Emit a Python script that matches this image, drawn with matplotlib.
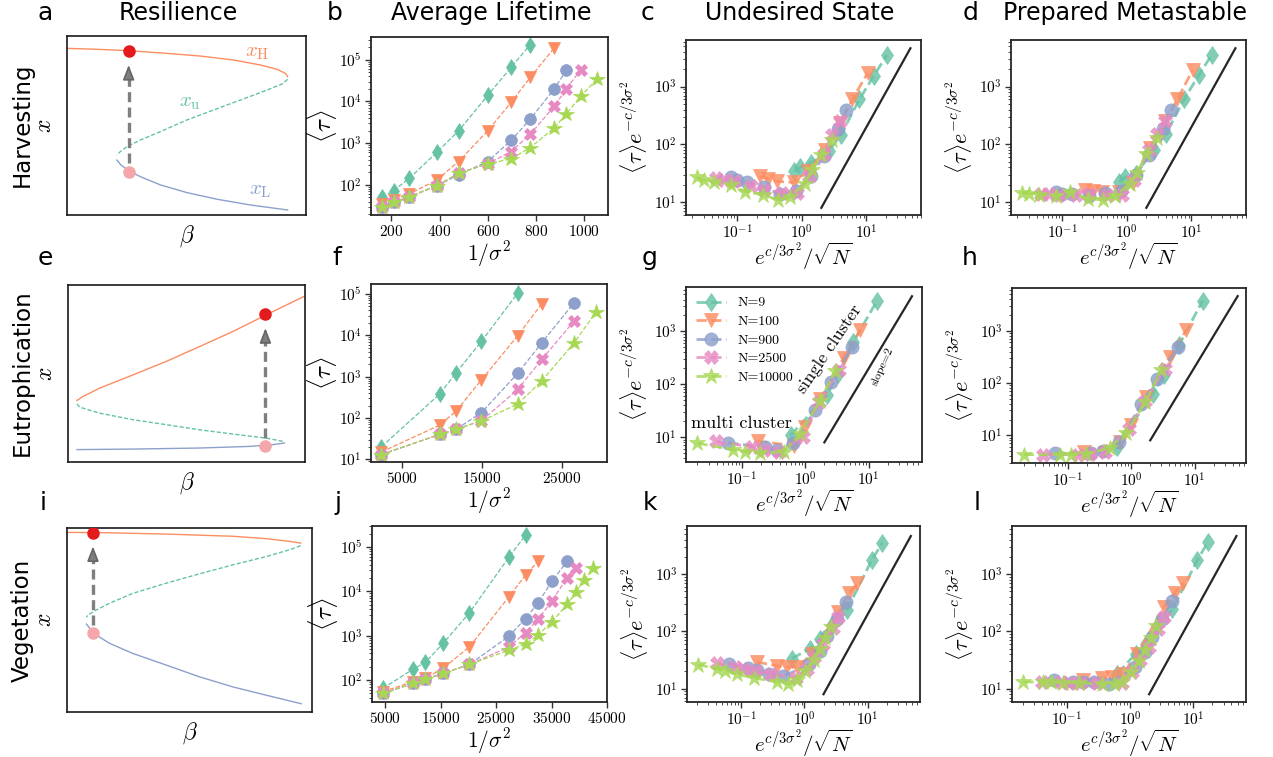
import numpy as np
import matplotlib
matplotlib.use("Agg")
import matplotlib.pyplot as plt
from matplotlib.ticker import FuncFormatter, NullFormatter, FixedLocator

plt.rcParams["mathtext.fontset"] = "cm"

W, H = 1273, 757

n_labels = ["N=9", "N=100", "N=900", "N=2500", "N=10000"]
colors = ["#66c2a5", "#fc8d62", "#8da0cb", "#e78ac3", "#a6d854"]
markers = ["d", "v", "o", "X", "*"]

# ---- bifurcation diagrams (beta, x), both in arbitrary units 0..1 ----
harv_H_beta = [0, .139, .258, .418, .558, .697, .809, .879, .914, .923]
harv_H_x = [.931, .925, .918, .903, .888, .866, .838, .814, .791, .773]
harv_u_beta = [.923, .900, .837, .725, .614, .502, .391, .307, .251, .223, .209]
harv_u_x = [.758, .732, .698, .642, .587, .531, .466, .419, .382, .354, .335]
harv_L_beta = [.209, .226, .258, .307, .391, .502, .628, .767, .923]
harv_L_x = [.307, .279, .248, .214, .168, .125, .088, .056, .028]
harv_jump = [0.258, 0.24, 0.918, 0.289, 0.838]  # beta, low dot, high dot, arrow start, arrow tip

eut_H_beta = [.038, .063, .133, .274, .414, .555, .695, .836, 1.0]
eut_H_x = [.348, .370, .417, .492, .568, .652, .737, .831, .938]
eut_u_beta = [.038, .049, .133, .274, .414, .555, .695, .836, .906, .913]
eut_u_x = [.329, .310, .276, .239, .211, .182, .158, .135, .117, .111]
eut_L_beta = [.038, .274, .555, .765, .864, .913]
eut_L_x = [.070, .073, .079, .088, .098, .107]
eut_jump = [0.833, 0.092, 0.835, 0.135, 0.756]

veg_H_beta = [0, .133, .405, .678, .814, .909, .954]
veg_H_x = [.976, .975, .967, .955, .942, .927, .918]
veg_u_beta = [.954, .909, .814, .678, .541, .405, .269, .174, .120, .086, .079]
veg_u_x = [.904, .882, .845, .800, .751, .700, .645, .591, .555, .527, .515]
veg_L_beta = [.079, .093, .120, .174, .269, .405, .541, .678, .814, .956]
veg_L_x = [.478, .455, .418, .373, .318, .255, .191, .136, .091, .045]
veg_jump = [0.106, 0.431, 0.973, 0.473, 0.90]

# ---- average lifetime vs 1/sigma^2 ----
harv_s = [161, 209, 275, 389, 479, 600, 697, 777, 876, 927, 986, 1055]
harv_tau = [
    [50, 73, 145, 608, 1980, 13900, 65500, 229000],
    [35, 44, 61, 132, 363, 1980, 9460, 37700, 190000],
    [29, 38, 52, 96, 174, 363, 1160, 3770, 19800, 55500],
    [29, 38, 52, 96, 190, 319, 631, 1640, 7590, 19800, 57500],
    [29, 38, 52, 96, 190, 319, 421, 787, 2290, 5060, 13200, 34400],
]
eut_s = [2417, 9708, 11792, 14917, 19458, 22500, 26458, 29250]
eut_tau = [
    [20, 380, 1260, 7100, 105000],
    [15, 67, 149, 830, 9800, 59000],
    [13, 40, 54, 134, 1200, 6700, 60000],
    [13, 40, 54, 85, 490, 2640, 21700],
    [13, 40, 54, 85, 217, 800, 6400, 36500],
]
veg_s = [4583, 9940, 12200, 15417, 20179, 27321, 30298, 32560, 35060, 37800,
         39400, 40900, 42560]
veg_tau = [
    [65, 174, 250, 670, 3300, 60000, 187000],
    [55, 92, 109, 183, 563, 7600, 23400, 48000],
    [50, 84, 104, 141, 225, 980, 2450, 5500, 17000, 48000],
    [50, 84, 104, 141, 225, 563, 1170, 2340, 6100, 20400, 34000],
    [50, 84, 104, 141, 225, 475, 650, 1040, 2070, 5100, 9800, 18000, 33000],
]

# ---- scaling collapse: x = e^{c/3s^2}/sqrt(N) ----
harv_xs = [
    [0.76, 0.95, 1.38, 2.60, 4.04, 7.78, 13.0, 20.7],
    [0.222, 0.296, 0.409, 0.751, 1.24, 2.28, 3.94, 6.06, 10.4],
    [0.0787, 0.100, 0.140, 0.260, 0.450, 0.817, 1.40, 2.17, 3.58, 4.77],
    [0.0472, 0.0614, 0.0877, 0.161, 0.263, 0.500, 0.846, 1.30, 2.20, 2.89, 3.85],
    [0.0236, 0.0307, 0.0438, 0.0807, 0.1315, 0.251, 0.424, 0.650, 1.10, 1.45, 2.0, 2.89],
]
harv_undesired = [
    [34.1, 40.1, 47.7, 76, 148, 603, 1535, 3510],
    [27.9, 25.5, 22.9, 22.0, 34.1, 81, 237, 603, 1706],
    [26.9, 24.4, 22.0, 18.0, 13.8, 15.7, 27.9, 64, 181, 387],
    [26.1, 24.1, 22.9, 19.2, 16.4, 14.4, 14.7, 27.9, 69.3, 148, 250],
    [26.8, 23.8, 22.0, 19.5, 15.3, 13.4, 11.0, 12.2, 20.9, 36.5, 66.5, 121],
]
harv_prepared = [
    [22.2, 27.2, 31.0, 78.7, 153, 619, 1574, 3590],
    [16.4, 15.9, 15.3, 14.9, 21.6, 86, 251, 603, 1920],
    [14.9, 14.0, 13.6, 12.7, 14.3, 15.9, 29.8, 64.4, 187, 399],
    [14.0, 14.0, 13.4, 13.1, 14.0, 13.1, 13.1, 23.8, 78.7, 153, 250],
    [14.3, 14.0, 13.4, 12.7, 15.3, 11.4, 11.0, 12.7, 20.8, 32.3, 68.9, 129],
]
eut_xs = [
    [0.586, 2.17, 3.32, 5.73, 13.4],
    [0.177, 0.654, 1.0, 1.73, 4.03, 7.39],
    [0.0616, 0.233, 0.357, 0.639, 1.44, 2.54, 5.46],
    [0.0398, 0.147, 0.225, 0.388, 0.908, 1.66, 3.36],
    [0.0200, 0.0738, 0.113, 0.195, 0.455, 0.834, 1.68, 2.98],
]
eut_undesired = [
    [10.8, 61.5, 158, 628, 3750],
    [8.4, 6.95, 15.9, 53, 317, 1076],
    [7.8, 6.5, 5.8, 7.7, 32, 110, 505],
    [8.3, 6.5, 5.8, 5.2, 10.3, 45.9, 188],
    [7.7, 5.8, 5.3, 5.0, 5.3, 11.6, 48, 177],
]
eut_prepared = [
    [6.0, 61, 143, 538, 3780],
    [4.8, 7.4, 15.6, 54.6, 316, 1030],
    [4.6, 4.6, 4.9, 7.4, 38.9, 118, 485],
    [4.25, 4.25, 4.3, 4.8, 13.4, 45.7, 186],
    [4.25, 4.25, 4.25, 4.3, 5.8, 11.1, 43.8, 178],
]
veg_xs = [
    [0.631, 1.23, 1.79, 2.70, 4.66, 11.6, 17.1],
    [0.177, 0.366, 0.526, 0.775, 1.31, 3.44, 5.14, 6.87],
    [0.0631, 0.127, 0.177, 0.270, 0.466, 1.20, 1.73, 2.25, 3.24, 4.55],
    [0.0408, 0.0804, 0.108, 0.163, 0.298, 0.738, 1.08, 1.44, 1.97, 2.80, 3.44],
    [0.0205, 0.0413, 0.0558, 0.0855, 0.157, 0.366, 0.558, 0.757, 1.03, 1.39, 1.73, 2.12, 2.61],
]
veg_undesired = [
    [33.5, 50.1, 75, 128, 234, 1760, 3530],
    [29.3, 24.9, 23.9, 23.9, 39.9, 219, 471, 687],
    [27.4, 23.0, 20.9, 18.3, 16.4, 26.7, 45.6, 82, 167, 328],
    [28.1, 23.9, 22.4, 20.4, 18.3, 15.6, 22.4, 35.8, 61.2, 115, 179],
    [26.3, 22.4, 20.4, 17.8, 15.4, 13.1, 11.9, 14.0, 20.4, 32.1, 50.1, 78, 120],
]
veg_prepared = [
    [18.3, 40.9, 61.2, 123, 241, 1760, 3680],
    [14.0, 15.4, 16.0, 18.3, 40.9, 268, 471, 705],
    [14.0, 13.1, 13.1, 13.1, 12.2, 23.9, 43.8, 80, 167, 337],
    [13.1, 13.1, 12.7, 12.6, 12.6, 12.6, 19.6, 31.3, 53.6, 112, 179],
    [13.1, 13.1, 13.1, 12.7, 12.6, 11.9, 12.2, 13.1, 19.6, 30.5, 48.1, 78, 123],
]

# slope-2 guide line
guide_x = [2.0, 48.0]
guide_y = [8.0, 4608.0]

row_names = ["Harvesting", "Eutrophication", "Vegetation"]
col_titles = ["Resilience", "Average Lifetime", "Undesired State", "Prepared Metastable"]


def rect(l, t, r, b):
    return [l / W, 1 - b / H, (r - l) / W, (b - t) / H]


log_fmt = FuncFormatter(lambda v, p: r"$10^{%d}$" % int(np.round(np.log10(v))))
lin_fmt = FuncFormatter(lambda v, p: r"$%d$" % v)


def style(ax):
    for s in ax.spines.values():
        s.set_color("0.15")
        s.set_linewidth(1.3)
    ax.tick_params(which="major", labelsize=11, length=4, width=1, color="0.2", pad=2.5)
    ax.tick_params(which="minor", length=2, width=0.7, color="0.3")


def bifurcation(ax, H_b, H_x, u_b, u_x, L_b, L_x, jump, texts=False):
    ax.plot(H_b, H_x, color=colors[1], lw=1.0)
    ax.plot(u_b, u_x, color=colors[0], lw=1.0, ls=(0, (3, 1.5)))
    ax.plot(L_b, L_x, color=colors[2], lw=1.0)
    b, lo, hi, a0, a1 = jump
    ax.plot([b, b], [a0, a1 - 0.06], color="#7f7f7f", lw=2.4, ls=(0, (3, 1.6)))
    ax.annotate("", xy=(b, a1), xytext=(b, a1 - 0.075),
                arrowprops=dict(arrowstyle="-|>,head_length=0.9,head_width=0.35",
                                color="#7f7f7f", ec="#666666", lw=1.2,
                                shrinkA=0, shrinkB=0))
    ax.plot(b, hi, "o", color="#e41a1c", ms=8, zorder=5)
    ax.plot(b, lo, "o", color="#f4a6ab", ms=8, zorder=5)
    if texts:
        ax.text(0.795, 0.912, r"$x_{\mathrm{H}}$", color=colors[1], fontsize=15,
                ha="center", va="center")
        ax.text(0.516, 0.633, r"$x_{\mathrm{u}}$", color=colors[0], fontsize=15,
                ha="center", va="center")
        ax.text(0.809, 0.14, r"$x_{\mathrm{L}}$", color=colors[2], fontsize=15,
                ha="center", va="center")
    ax.set_xlim(0, 1)
    ax.set_ylim(0, 1)
    ax.set_xticks([])
    ax.set_yticks([])
    ax.set_xlabel(r"$\beta$", fontsize=17, labelpad=6)
    ax.set_ylabel(r"$x$", fontsize=17, labelpad=8)
    for s in ax.spines.values():
        s.set_color("0.1")
        s.set_linewidth(1.2)


def lifetime(ax, s_grid, taus, xlim, ylim, xticks):
    for i in range(5):
        ax.plot(s_grid[:len(taus[i])], taus[i], ls="--", lw=0.9, marker=markers[i],
                color=colors[i], ms=11.5 if markers[i] == "*" else 8.5, mew=0.5)
    ax.set_yscale("log")
    ax.set_xlim(*xlim)
    ax.set_ylim(*ylim)
    ax.xaxis.set_major_locator(FixedLocator(xticks))
    ax.xaxis.set_major_formatter(lin_fmt)
    ax.yaxis.set_major_formatter(log_fmt)
    ax.yaxis.set_minor_formatter(NullFormatter())
    ax.set_xlabel(r"$1/\sigma^2$", fontsize=15.5, labelpad=0)
    ax.set_ylabel(r"$\langle\tau\rangle$", fontsize=18, labelpad=0)
    style(ax)


def collapse(ax, xs, ys, xlim, ylim, legend=False):
    for i in range(5):
        ax.plot(xs[i], ys[i], ls="--", lw=2.0, marker=markers[i], color=colors[i],
                ms=12 if markers[i] == "*" else 9.5, mew=0.5, alpha=0.82,
                label=n_labels[i])
    ax.plot(guide_x, guide_y, color="0.15", lw=1.6)
    ax.set_xscale("log")
    ax.set_yscale("log")
    ax.set_xlim(*xlim)
    ax.set_ylim(*ylim)
    for a in (ax.xaxis, ax.yaxis):
        a.set_major_formatter(log_fmt)
        a.set_minor_formatter(NullFormatter())
    ax.set_xlabel(r"$e^{c/3\sigma^2}/\sqrt{N}$", fontsize=15, labelpad=-1)
    ax.set_ylabel(r"$\langle\tau\rangle e^{-c/3\sigma^2}$", fontsize=16, labelpad=2)
    style(ax)
    if legend:
        ax.legend(loc="upper left", frameon=False, prop={"family": "cmr10", "size": 10},
                  handlelength=2.2, labelspacing=0.42, borderaxespad=0.3)


fig = plt.figure(figsize=(W / 100, H / 100), dpi=100)

ax_a = fig.add_axes(rect(67, 36, 306, 215))
ax_b = fig.add_axes(rect(371, 37, 608, 215))
ax_c = fig.add_axes(rect(686, 40, 921, 215))
ax_d = fig.add_axes(rect(1011, 40, 1246, 215))
ax_e = fig.add_axes(rect(68, 285, 305, 462))
ax_f = fig.add_axes(rect(371, 284, 607, 462))
ax_g = fig.add_axes(rect(686, 287, 922, 462))
ax_h = fig.add_axes(rect(1012, 288, 1246, 463))
ax_i = fig.add_axes(rect(67, 528, 312, 712))
ax_j = fig.add_axes(rect(372, 526, 607, 702))
ax_k = fig.add_axes(rect(687, 526, 920, 702))
ax_l = fig.add_axes(rect(1012, 526, 1246, 702))

bifurcation(ax_a, harv_H_beta, harv_H_x, harv_u_beta, harv_u_x, harv_L_beta, harv_L_x,
            harv_jump, texts=True)
bifurcation(ax_e, eut_H_beta, eut_H_x, eut_u_beta, eut_u_x, eut_L_beta, eut_L_x, eut_jump)
bifurcation(ax_i, veg_H_beta, veg_H_x, veg_u_beta, veg_u_x, veg_L_beta, veg_L_x, veg_jump)

lifetime(ax_b, harv_s, harv_tau, (115, 1100), (19, 3.5e5), [200, 400, 600, 800, 1000])
lifetime(ax_f, eut_s, eut_tau, (1125, 30625), (8.6, 1.75e5), [5000, 15000, 25000])
lifetime(ax_j, veg_s, veg_tau, (2600, 45000), (32, 3e5), [5000, 15000, 25000, 35000, 45000])

collapse(ax_c, harv_xs, harv_undesired, (0.016, 70), (6.0, 6400))
collapse(ax_d, harv_xs, harv_prepared, (0.016, 70), (6.0, 6400))
collapse(ax_g, eut_xs, eut_undesired, (0.0132, 69), (3.4, 6900), legend=True)
collapse(ax_h, eut_xs, eut_prepared, (0.0131, 65), (2.94, 6600))
collapse(ax_k, veg_xs, veg_undesired, (0.0139, 67), (5.85, 6900))
collapse(ax_l, veg_xs, veg_prepared, (0.0136, 68), (5.85, 6900))

ax_g.text(0.237, 0.223, "multi cluster", transform=ax_g.transAxes, family="cmr10",
          fontsize=13, ha="center", va="center")
ax_g.text(0.606, 0.646, "single cluster", transform=ax_g.transAxes, family="cmr10",
          fontsize=13, ha="center", va="center", rotation=56)
ax_g.text(0.83, 0.549, "slope=2", transform=ax_g.transAxes, family="cmr10",
          fontsize=8.5, ha="center", va="center", rotation=66)

# column titles and panel letters
title_x = [178, 491, 800, 1125]
for t, x in zip(col_titles, title_x):
    fig.text(x / W, 1 - 20 / H, t, fontsize=17, ha="center", va="baseline")
letter_pos = [("a", 45, 20), ("b", 335, 20), ("c", 647, 20), ("d", 971, 20),
              ("e", 45, 265), ("f", 337, 265), ("g", 650, 265), ("h", 970, 265),
              ("i", 43, 510), ("j", 338, 510), ("k", 650, 510), ("l", 977, 510)]
for s, x, y in letter_pos:
    fig.text(x / W, 1 - y / H, s, fontsize=18, ha="center", va="baseline")
for name, y in zip(row_names, [125, 373, 620]):
    fig.text(22 / W, 1 - y / H, name, fontsize=16.5, rotation=90, ha="center", va="center")

fig.savefig("out.png", dpi=100)
